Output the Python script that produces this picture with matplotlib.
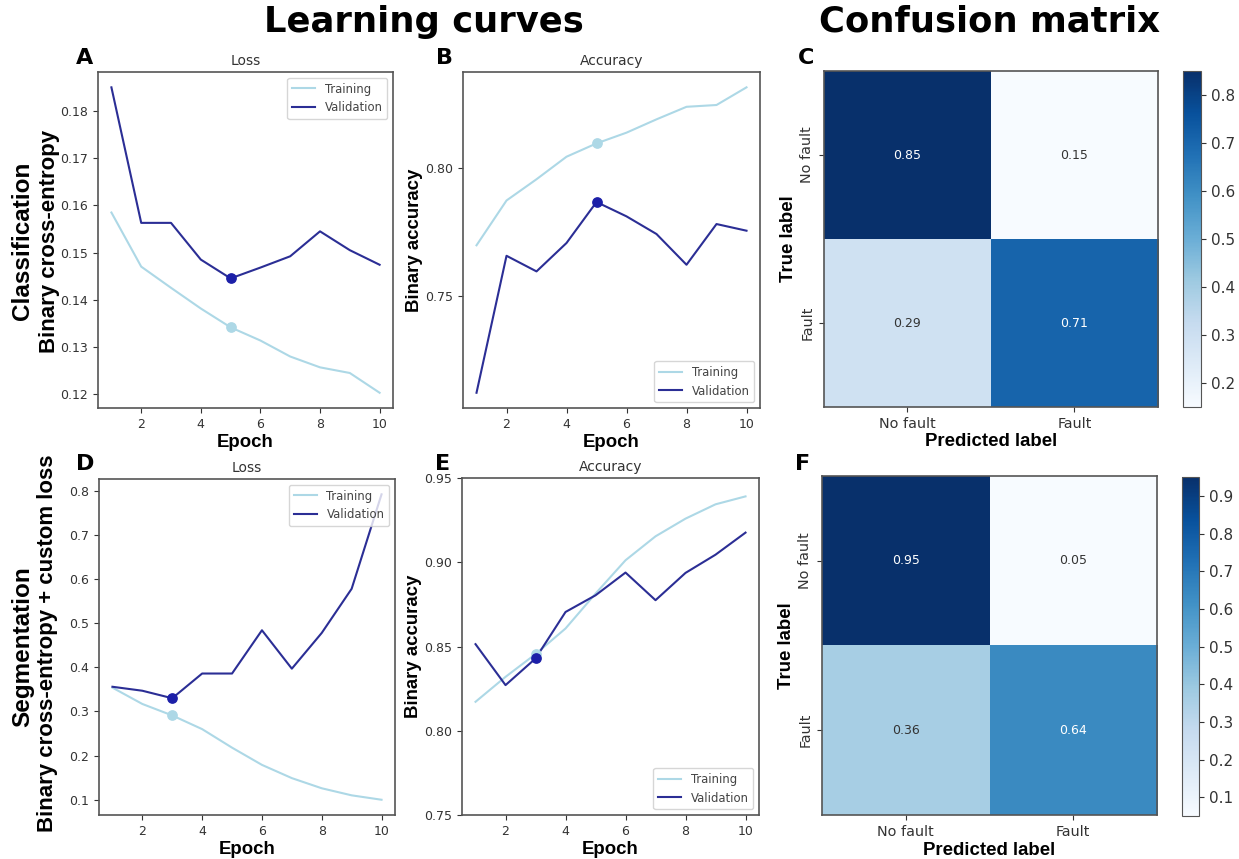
import matplotlib
matplotlib.use('Agg')
import matplotlib.pyplot as plt
from matplotlib.ticker import MultipleLocator
import numpy as np

epochs = [1, 2, 3, 4, 5, 6, 7, 8, 9, 10]

# classification
cls_loss_train = [0.1585, 0.1470, 0.1425, 0.1381, 0.1341, 0.1313, 0.1279, 0.1256, 0.1244, 0.1202]
cls_loss_val = [0.1851, 0.1563, 0.1563, 0.1485, 0.1445, 0.1468, 0.1492, 0.1545, 0.1505, 0.1474]
cls_acc_train = [0.7699, 0.7874, 0.7957, 0.8045, 0.8097, 0.8139, 0.8191, 0.8240, 0.8247, 0.8316]
cls_acc_val = [0.7123, 0.7658, 0.7597, 0.7708, 0.7868, 0.7812, 0.7743, 0.7623, 0.7782, 0.7756]
cls_best = 5

# segmentation
seg_loss_train = [0.354, 0.317, 0.291, 0.260, 0.218, 0.179, 0.149, 0.126, 0.110, 0.100]
seg_loss_val = [0.356, 0.347, 0.330, 0.386, 0.386, 0.484, 0.397, 0.478, 0.578, 0.792]
seg_acc_train = [0.8172, 0.8320, 0.8455, 0.8607, 0.8814, 0.9012, 0.9154, 0.9259, 0.9344, 0.9391]
seg_acc_val = [0.8514, 0.8271, 0.8429, 0.8705, 0.8804, 0.8939, 0.8775, 0.8937, 0.9045, 0.9176]
seg_best = 3

classes = ['No fault', 'Fault']
cm_cls = [[0.85, 0.15], [0.29, 0.71]]
cm_seg = [[0.95, 0.05], [0.36, 0.64]]

c_train = 'lightblue'
c_val = '#2b2e95'
c_val_dot = '#1c1fa8'
gray = '#555555'
bold = dict(family='Liberation Sans', fontweight='bold')

fig = plt.figure(figsize=(12.39, 8.59), dpi=100)

def style(ax):
    for s in ax.spines.values():
        s.set_color(gray)
        s.set_linewidth(1.2)
    ax.tick_params(colors='#333333', labelsize=9)

def curve(ax, train, val, best, title, loc):
    ax.plot(epochs, train, color=c_train, lw=1.5, label='Training')
    ax.plot(epochs, val, color=c_val, lw=1.5, label='Validation')
    i = epochs.index(best)
    ax.scatter([best], [train[i]], color=c_train, s=45, zorder=3)
    ax.scatter([best], [val[i]], color=c_val_dot, s=45, zorder=3)
    ax.set_title(title, fontsize=10, color='#333333', pad=5)
    ax.set_xlabel('Epoch', fontsize=13.4, labelpad=2, **bold)
    ax.xaxis.set_major_locator(MultipleLocator(2))
    leg = ax.legend(loc=loc, fontsize=8.4)
    for t in leg.get_texts():
        t.set_color('#444444')
    style(ax)

axA = fig.add_axes([0.0791, 0.525, 0.2381, 0.3911])
curve(axA, cls_loss_train, cls_loss_val, cls_best, 'Loss', 'upper right')
axA.yaxis.set_major_locator(MultipleLocator(0.01))

axB = fig.add_axes([0.3737, 0.525, 0.2397, 0.3911])
curve(axB, cls_acc_train, cls_acc_val, cls_best, 'Accuracy', 'lower right')
axB.yaxis.set_major_locator(MultipleLocator(0.05))
axB.set_ylabel('Binary accuracy', fontsize=13.4, labelpad=2, **bold)

axD = fig.add_axes([0.0799, 0.0512, 0.2389, 0.3911])
curve(axD, seg_loss_train, seg_loss_val, seg_best, 'Loss', 'upper right')
axD.yaxis.set_major_locator(MultipleLocator(0.1))

axE = fig.add_axes([0.3729, 0.0512, 0.2397, 0.3923])
curve(axE, seg_acc_train, seg_acc_val, seg_best, 'Accuracy', 'lower right')
axE.set_ylim(0.75, 0.95)
axE.yaxis.set_major_locator(MultipleLocator(0.05))
axE.set_ylabel('Binary accuracy', fontsize=13.4, labelpad=2, **bold)

def confmat(ax, cax, cm, ticks):
    cm = np.array(cm)
    im = ax.imshow(cm, cmap='Blues', aspect='auto')
    ax.set_xticks([0, 1])
    ax.set_yticks([0, 1])
    style(ax)
    ax.set_xticklabels(classes, fontsize=10.4)
    ax.set_yticklabels(classes, fontsize=10.4, rotation=90, va='center')
    ax.set_xlabel('Predicted label', fontsize=13.4, labelpad=2, **bold)
    ax.set_ylabel('True label', fontsize=13.4, labelpad=2, **bold)
    thr = (cm.max() + cm.min()) / 2
    for r in range(2):
        for c in range(2):
            ax.text(c, r, '%.2f' % cm[r, c], ha='center', va='center', fontsize=9,
                    color='white' if cm[r, c] > thr else '#333333')
    cb = fig.colorbar(im, cax=cax, ticks=ticks)
    cb.outline.set_edgecolor(gray)
    cb.ax.tick_params(labelsize=11, colors='#333333')

axC = fig.add_axes([0.665, 0.5262, 0.2696, 0.391])
caxC = fig.add_axes([0.9548, 0.5262, 0.0145, 0.391])
confmat(axC, caxC, cm_cls, [0.2, 0.3, 0.4, 0.5, 0.6, 0.7, 0.8])

axF = fig.add_axes([0.6634, 0.0512, 0.2704, 0.3946])
caxF = fig.add_axes([0.954, 0.05, 0.0137, 0.3946])
confmat(axF, caxF, cm_seg, [0.1, 0.2, 0.3, 0.4, 0.5, 0.6, 0.7, 0.8, 0.9])

# headings
fig.text(424 / 1239, 1 - 22 / 859, 'Learning curves', fontsize=25.5, fontweight='bold', ha='center', va='center')
fig.text(990 / 1239, 1 - 22 / 859, 'Confusion matrix', fontsize=25.5, fontweight='bold', ha='center', va='center')

for x, y, s in [(85, 58, 'A'), (445, 58, 'B'), (806, 58, 'C'),
                (85, 464, 'D'), (443, 464, 'E'), (803, 464, 'F')]:
    fig.text(x / 1239, 1 - y / 859, s, fontsize=16, fontweight='bold', ha='center', va='center')

fig.text(23 / 1239, 1 - 241 / 859, 'Classification', fontsize=17.5, rotation=90,
         ha='center', va='center', **bold)
fig.text(50 / 1239, 1 - 241 / 859, 'Binary cross-entropy', fontsize=16, rotation=90,
         ha='center', va='center', **bold)
fig.text(23 / 1239, 1 - 647 / 859, 'Segmentation', fontsize=17.5, rotation=90,
         ha='center', va='center', **bold)
fig.text(48 / 1239, 1 - 643 / 859, 'Binary cross-entropy + custom loss', fontsize=16,
         rotation=90, ha='center', va='center', **bold)

fig.savefig('out.png', dpi=100)
